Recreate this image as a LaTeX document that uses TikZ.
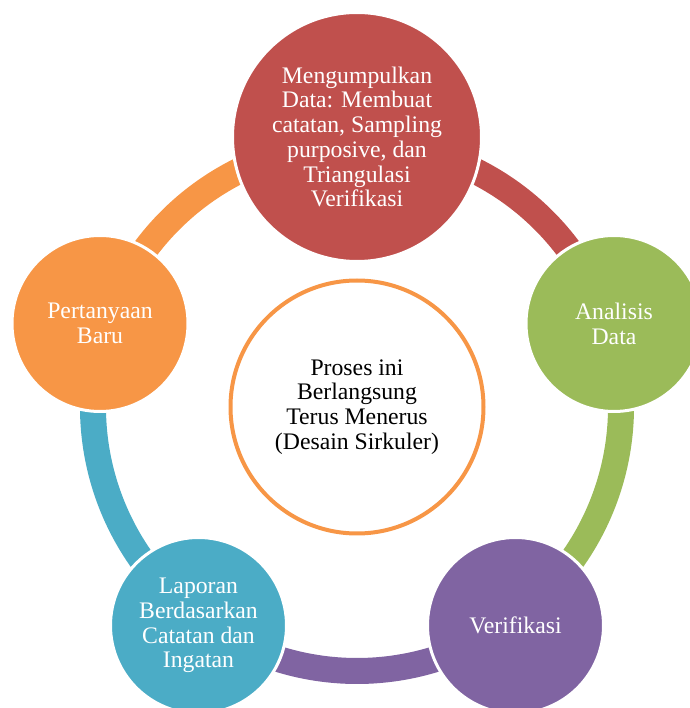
\documentclass[tikz,border=0pt]{standalone}
\usepackage{fontspec}
\setmainfont{Liberation Serif}
\usepackage{tikz}

\definecolor{merah}{HTML}{C0504D}
\definecolor{hijau}{HTML}{9BBB59}
\definecolor{ungu}{HTML}{8064A2}
\definecolor{biru}{HTML}{4BACC6}
\definecolor{oranye}{HTML}{F79646}

\begin{document}
\begin{tikzpicture}[
        bubble/.style={circle, draw=white, line width=0.06cm, inner sep=0pt,
            text=white, align=center, font=\fontsize{13.5}{14.1}\selectfont},
        ringarc/.style={line width=0.52cm}
    ]

        \useasboundingbox (00.00,00.00) rectangle (13.80,14.16);

        % pusat lingkaran
        \coordinate (pusat) at (07.14,06.02);

        % busur antar langkah
        \draw[ringarc, merah]  (pusat) ++(90:5.28)  arc (90:18:5.28);
        \draw[ringarc, hijau]  (pusat) ++(18:5.28)  arc (18:-54:5.28);
        \draw[ringarc, ungu]   (pusat) ++(-54:5.28) arc (-54:-126:5.28);
        \draw[ringarc, biru]   (pusat) ++(234:5.28) arc (234:162:5.28);
        \draw[ringarc, oranye] (pusat) ++(162:5.28) arc (162:90:5.28);

        % Mengumpulkan Data
        \node[bubble, fill=merah, minimum size=4.98cm] (kumpul) at (07.14,11.42)
            {Mengumpulkan\\Data: Membuat\\catatan, Sampling\\purposive, dan\\Triangulasi\\Verifikasi};

        % Analisis Data
        \node[bubble, fill=hijau, minimum size=3.52cm] (analisis) at (12.28,07.69)
            {Analisis\\Data};

        % Verifikasi
        \node[bubble, fill=ungu, minimum size=3.52cm] (verifikasi) at (10.31,01.65)
            {Verifikasi};

        % Laporan
        \node[bubble, fill=biru, minimum size=3.52cm] (laporan) at (03.97,01.65)
            {Laporan\\Berdasarkan\\Catatan dan\\Ingatan};

        % Pertanyaan Baru
        \node[bubble, fill=oranye, minimum size=3.52cm] (tanya) at (02.00,07.69)
            {Pertanyaan\\Baru};

        % Proses (tengah)
        \node[circle, draw=oranye, line width=0.08cm, fill=white, minimum size=5.06cm,
            inner sep=0pt, align=center, font=\fontsize{13.5}{14.1}\selectfont] (proses) at (pusat)
            {Proses ini\\Berlangsung\\Terus Menerus\\(Desain Sirkuler)};

    \end{tikzpicture}
\end{document}
